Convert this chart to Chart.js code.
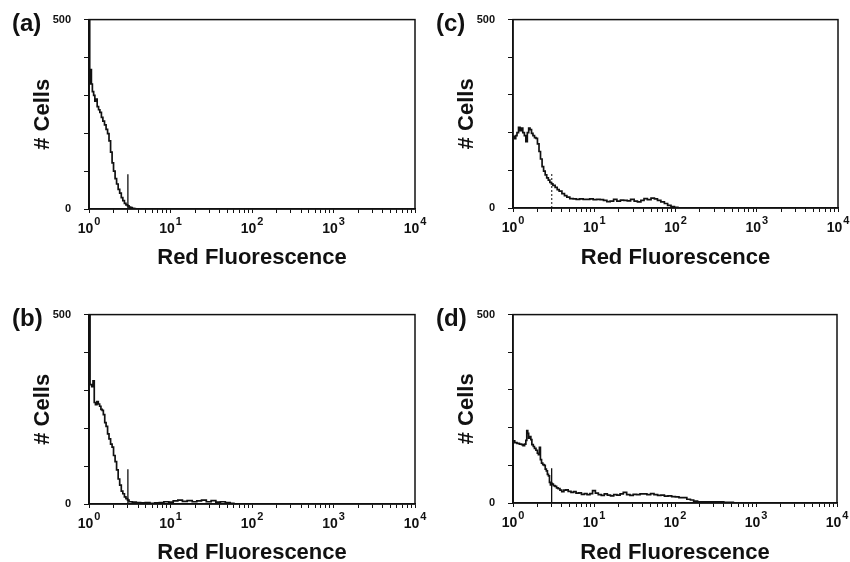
<!DOCTYPE html>
<html>
<head>
<meta charset="utf-8">
<title>Red Fluorescence histograms</title>
<script src="https://cdn.jsdelivr.net/npm/chart.js@4.4.0/dist/chart.umd.min.js"></script>
<style>
  html, body { margin: 0; padding: 0; background: #fff; }
  #wrap { position: relative; width: 850px; height: 562px; overflow: hidden; }
  .panel { position: absolute; width: 440px; height: 285px; }
</style>
</head>
<body>
<div id="wrap">
  <div class="panel" style="left:0;top:0"><canvas id="chart-a" width="440" height="285"></canvas></div>
  <div class="panel" style="left:424px;top:0"><canvas id="chart-c" width="440" height="285"></canvas></div>
  <div class="panel" style="left:0;top:295px"><canvas id="chart-b" width="440" height="285"></canvas></div>
  <div class="panel" style="left:424px;top:295px"><canvas id="chart-d" width="440" height="285"></canvas></div>
</div>
<script>
(function () {
  'use strict';

  var FONT = "'Liberation Sans', Arial, Helvetica, sans-serif";
  var INK  = '#111';

  // ── Data (channel value, # cells) ───────────────────────
  var xA = [1, 1, 1.02, 1.05, 1.07, 1.10, 1.14, 1.18, 1.22, 1.26,
            1.31, 1.36, 1.42, 1.48, 1.55, 1.62, 1.69, 1.76, 1.84, 1.92,
            2.00, 2.09, 2.18, 2.28, 2.38, 2.49, 2.60, 2.72, 2.84, 2.97,
            3.10, 3.24, 3.39, 3.55, 3.70];
  var yA = [0, 500, 330, 368, 330, 310, 300, 285, 290, 270,
            262, 255, 242, 232, 222, 210, 199, 180, 150, 122,
            100, 80, 66, 52, 42, 30, 22, 15, 11, 8,
            5, 4, 2, 1, 0];

  var xB = [1, 1, 1.03, 1.08, 1.12, 1.16, 1.20, 1.25, 1.30, 1.35,
            1.40, 1.45, 1.50, 1.56, 1.62, 1.69, 1.76, 1.84, 1.92, 2.00,
            2.09, 2.18, 2.28, 2.38, 2.49, 2.60, 2.72, 2.84, 2.97, 3.10,
            3.4, 3.8, 4.3, 4.9, 5.6, 6.4, 7.3, 8.3, 9.5, 10.8,
            12.3, 14, 16, 18.5, 21, 24, 27.5, 31.5, 36, 41,
            47, 54, 60];
  var yB = [0, 500, 315, 310, 325, 268, 262, 270, 264, 258,
            250, 247, 236, 215, 205, 185, 172, 158, 150, 128,
            112, 90, 66, 50, 34, 27, 19, 14, 10, 6,
            5, 4, 3, 4, 2, 3, 4, 6, 5, 8,
            10, 7, 9, 6, 8, 10, 6, 9, 5, 6,
            4, 2, 0];

  var xC = [1, 1, 1.04, 1.08, 1.12, 1.17, 1.22, 1.27, 1.32, 1.38,
            1.44, 1.50, 1.56, 1.62, 1.69, 1.76, 1.84, 1.92, 2.00, 2.09,
            2.18, 2.28, 2.38, 2.49, 2.60, 2.72, 2.84, 2.97, 3.10, 3.3,
            3.5, 3.7, 4.0, 4.3, 4.6, 5.0, 5.5, 6.0, 6.6, 7.3,
            8.0, 8.8, 9.7, 10.7, 11.8, 13, 14.3, 15.7, 17.3, 19,
            21, 23, 25.5, 28, 31, 34, 37.5, 41, 45, 50,
            55, 60, 66, 73, 80, 88, 97, 107];
  var yC = [0, 190, 184, 192, 200, 214, 205, 212, 200, 192,
            176, 200, 212, 208, 198, 192, 187, 185, 170, 150,
            130, 110, 98, 88, 80, 74, 68, 64, 60, 55,
            49, 45, 38, 33, 29, 25, 24, 23, 24, 23,
            23, 24, 22, 23, 22, 20, 17, 18, 23, 18,
            21, 20, 19, 23, 18, 16, 20, 25, 22, 26,
            24, 20, 16, 12, 7, 4, 2, 0];

  var xD = [1, 1, 1.05, 1.12, 1.20, 1.28, 1.33, 1.39, 1.44, 1.48,
            1.52, 1.56, 1.61, 1.66, 1.71, 1.78, 1.84, 1.92, 2.00, 2.06,
            2.12, 2.18, 2.25, 2.33, 2.42, 2.50, 2.58, 2.66, 2.74, 2.82,
            2.90, 2.97, 3.05, 3.15, 3.30, 3.45, 3.6, 3.8, 4.0, 4.25,
            4.5, 4.8, 5.2, 5.6, 6.0, 6.5, 7.0, 7.6, 8.2, 8.9,
            9.6, 10.4, 11.3, 12.3, 13.4, 14.6, 16, 17.5, 19.2, 21,
            23, 25.3, 27.8, 30.5, 33.5, 37, 41, 45, 50, 55,
            61, 67, 74, 82, 91, 101, 112, 125, 140, 155,
            170, 190, 230, 300, 400, 525];
  var yD = [0, 165, 160, 158, 156, 155, 152, 156, 166, 192,
            185, 172, 176, 168, 155, 150, 145, 140, 132, 128,
            148, 115, 106, 102, 100, 90, 85, 76, 72, 55,
            48, 52, 50, 46, 44, 40, 38, 34, 30, 34,
            35, 31, 28, 30, 26, 27, 23, 25, 22, 25,
            33, 26, 22, 20, 24, 21, 19, 22, 21, 24,
            28, 22, 20, 23, 22, 24, 24, 22, 25, 22,
            20, 21, 18, 19, 17, 16, 14, 14, 10, 8,
            5, 3, 3, 3, 2, 0];

  // marker (gate) line
  var GATE_X   = 3;
  var GATE_TOP = 92;

  // axes
  var DECADES   = [1, 10, 100, 1000, 10000];
  var EXPONENTS = ['0', '1', '2', '3', '4'];
  var MINOR     = [2, 3, 4, 5, 6, 7, 8, 9];
  var Y_LABELS  = [0, 500];

  // ── Layout per panel ────────────────────────────────────
  var PANELS = [
    { id: 'chart-a', letter: '(a)', xs: xA, ys: yA, padTop: 19, padRight: 25, dashed: false },
    { id: 'chart-c', letter: '(c)', xs: xC, ys: yC, padTop: 18, padRight: 26, dashed: true },
    { id: 'chart-b', letter: '(b)', xs: xB, ys: yB, padTop: 19, padRight: 25, dashed: false },
    { id: 'chart-d', letter: '(d)', xs: xD, ys: yD, padTop: 18, padRight: 27, dashed: false }
  ];
  var PLOT_H = 190;
  var AXIS_W = 89;

  function tickValues() {
    var out = [];
    DECADES.forEach(function (d, i) {
      out.push({ value: d, major: true });
      if (i < DECADES.length - 1) {
        MINOR.forEach(function (m) { out.push({ value: d * m }); });
      }
    });
    return out;
  }

  // frame, superscript decade labels and panel letter
  var decorations = {
    id: 'decorations',
    afterDraw: function (chart, args, opts) {
      var ctx = chart.ctx, a = chart.chartArea, xs = chart.scales.x;
      ctx.save();
      ctx.strokeStyle = INK;
      ctx.lineWidth = 1.5;
      ctx.strokeRect(a.left, a.top, a.right - a.left, a.bottom - a.top);

      ctx.fillStyle = INK;
      ctx.textAlign = 'left';
      ctx.textBaseline = 'alphabetic';
      DECADES.forEach(function (d, i) {
        var px = xs.getPixelForValue(d);
        ctx.font = 'bold 14px ' + FONT;
        var wBase = ctx.measureText('10').width;
        ctx.font = 'bold 11px ' + FONT;
        var wExp = ctx.measureText(EXPONENTS[i]).width;
        var x0 = px - (wBase + wExp + 1) / 2;
        ctx.font = 'bold 14px ' + FONT;
        ctx.fillText('10', x0, a.bottom + 24);
        ctx.font = 'bold 11px ' + FONT;
        ctx.fillText(EXPONENTS[i], x0 + wBase + 1, a.bottom + 16);
      });

      ctx.font = 'bold 24px ' + FONT;
      ctx.fillText(opts.letter, 12, a.top + 11);
      ctx.restore();
    }
  };

  function makeChart(p) {
    var ctx = document.getElementById(p.id);
    var xAxisH = ctx.height - p.padTop - PLOT_H;

    return new Chart(ctx, {
      type: 'line',
      data: {
        datasets: [{
          data: p.xs.map(function (x, i) { return { x: x, y: p.ys[i] }; }),
          stepped: true,
          borderColor: INK,
          borderWidth: 1.7,
          pointRadius: 0,
          fill: false
        }, {
          data: [{ x: GATE_X, y: 0 }, { x: GATE_X, y: GATE_TOP }],
          borderColor: INK,
          borderWidth: p.dashed ? 1 : 1.3,
          borderDash: p.dashed ? [2, 2] : [],
          pointRadius: 0,
          fill: false
        }]
      },
      options: {
        responsive: false,
        animation: false,
        events: [],
        layout: { padding: { left: 0, top: p.padTop, right: p.padRight, bottom: 0 } },
        plugins: {
          legend: { display: false },
          tooltip: { enabled: false },
          decorations: { letter: p.letter }
        },
        scales: {
          x: {
            type: 'logarithmic',
            min: 1,
            max: 10000,
            afterFit: function (s) { s.height = xAxisH; },
            afterBuildTicks: function (s) { s.ticks = tickValues(); },
            ticks: { display: false, autoSkip: false },
            grid: { drawOnChartArea: false, tickLength: 4, color: INK, lineWidth: 1 },
            border: { color: INK, width: 1.5 },
            title: {
              display: true,
              text: 'Red Fluorescence',
              color: INK,
              font: { family: FONT, weight: 'bold', size: 22 },
              padding: { top: 0, bottom: 14 }
            }
          },
          y: {
            min: 0,
            max: 500,
            afterFit: function (s) { s.width = AXIS_W; },
            ticks: {
              stepSize: 100,
              padding: 13,
              color: INK,
              font: { family: FONT, weight: 'bold', size: 11 },
              callback: function (v) { return Y_LABELS.indexOf(v) >= 0 ? String(v) : ''; }
            },
            grid: { drawOnChartArea: false, tickLength: 5, color: INK, lineWidth: 1 },
            border: { color: INK, width: 1.5 },
            title: {
              display: true,
              text: '# Cells',
              color: INK,
              font: { family: FONT, weight: 'bold', size: 22 },
              padding: { top: 30, bottom: 0 }
            }
          }
        }
      },
      plugins: [decorations]
    });
  }

  PANELS.forEach(makeChart);
}());
</script>
</body>
</html>
